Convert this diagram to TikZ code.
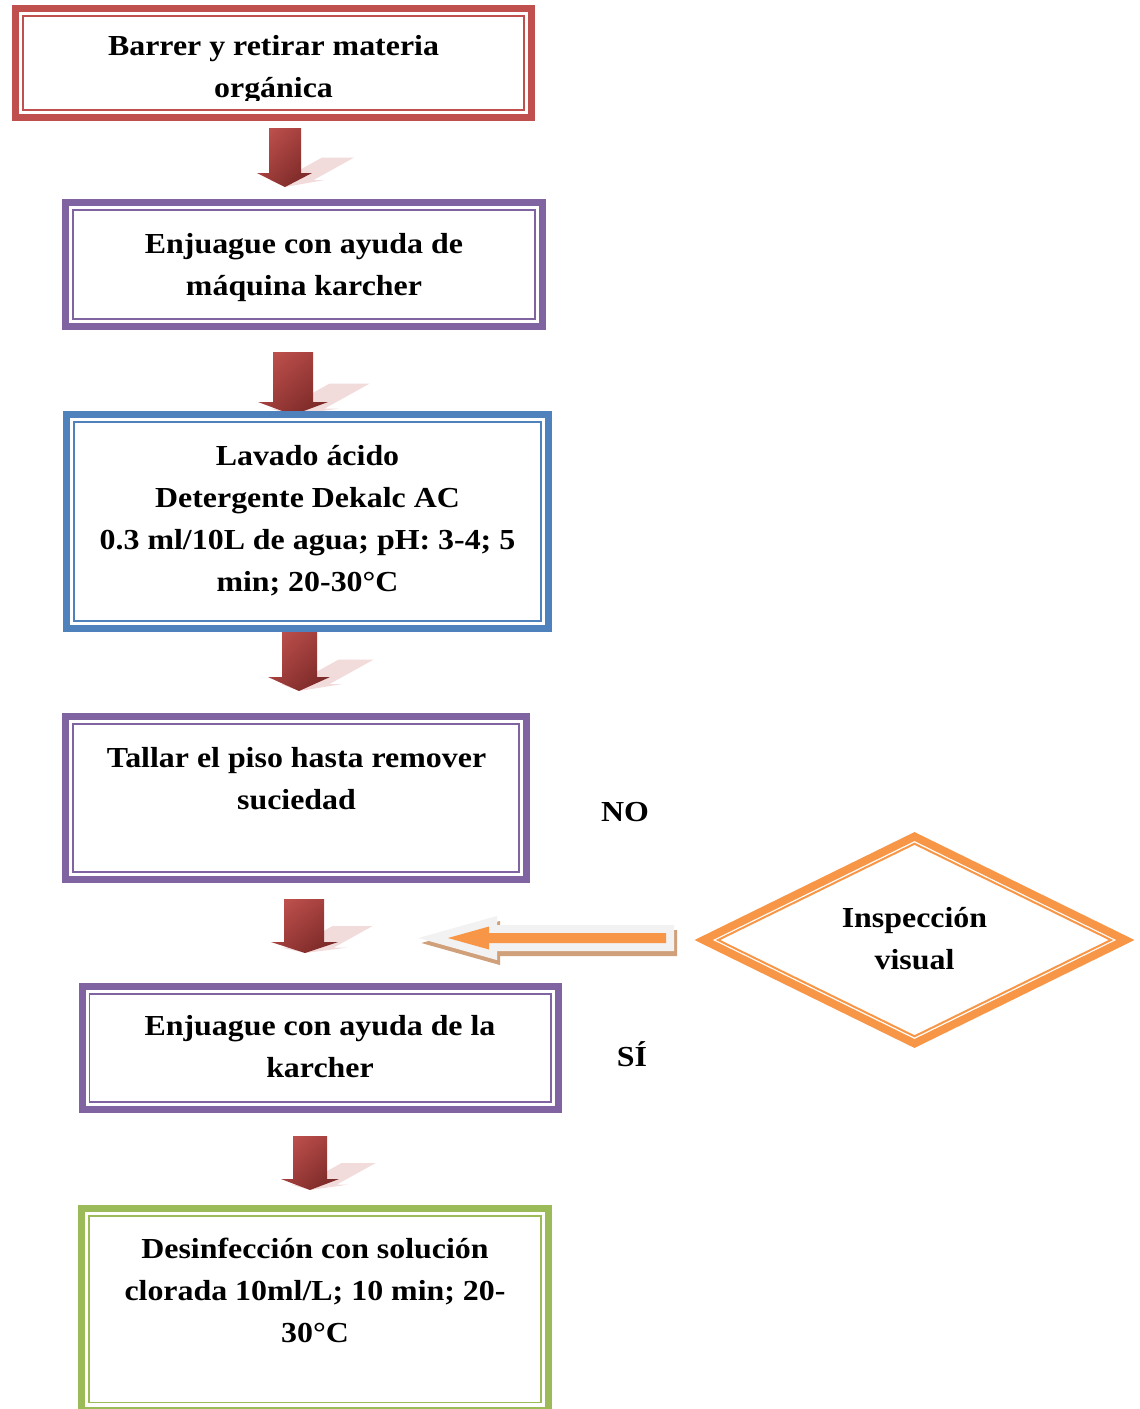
\documentclass[tikz,border=0pt]{standalone}
\usepackage{fontspec}
\usetikzlibrary{shadings}
\setmainfont{Liberation Serif}[FakeStretch=1.1]
\definecolor{cred}{HTML}{C0504D}
\definecolor{cpurple}{HTML}{8064A2}
\definecolor{cblue}{HTML}{4F81BD}
\definecolor{cgreen}{HTML}{9BBB59}
\definecolor{corange}{HTML}{F79646}
\definecolor{cgrey}{HTML}{F2F2F2}
\definecolor{ctan}{RGB}{208,160,122}
\definecolor{cpink}{RGB}{242,219,219}
\definecolor{alight}{RGB}{198,86,82}
\definecolor{amid}{RGB}{158,60,58}
\definecolor{adark}{RGB}{110,35,33}
\newcommand\tstrut{\rule{0pt}{26pt}}
% #1 shaft left, #2 shaft right, #3 top, #4 head y, #5 head left, #6 head right, #7 tip x, #8 tip y
\newcommand\blockdown[8]{%
  \pgfmathsetmacro\dyAll{#8-#3}%
  \pgfmathsetmacro\dyHead{#8-#4}%
  \fill[arrowshadow] ({#1+0.9*\dyAll},{#8-0.5*\dyAll}) -- ({#2+0.9*\dyAll},{#8-0.5*\dyAll})
     -- ({#2+0.9*\dyHead},{#8-0.5*\dyHead}) -- ({#6+0.9*\dyHead},{#8-0.5*\dyHead})
     -- (#7,#8) -- ({#5+0.9*\dyHead},{#8-0.5*\dyHead}) -- ({#1+0.9*\dyHead},{#8-0.5*\dyHead}) -- cycle;
  \shade[arrowbody] (#1,#3) -- (#2,#3) -- (#2,#4) -- (#6,#4) -- (#7,#8) -- (#5,#4) -- (#1,#4) -- cycle;
}
\begin{document}
\begin{tikzpicture}[x=1pt,y=-1pt,
  frame/.style={draw=#1, line width=7pt, inner sep=0pt, outer sep=0pt},
  innerframe/.style={draw=#1, line width=1.8pt},
  boxtext/.style={font=\bfseries\fontsize{29}{42}\selectfont, align=center, inner sep=0pt, anchor=north},
  sidetext/.style={font=\bfseries\fontsize{29}{42}\selectfont, inner sep=0pt, anchor=base},
  arrowshadow/.style={fill=cpink},
  arrowbody/.style={upper left=alight, upper right=amid, lower left=amid, lower right=adark},
  diamondouter/.style={draw=corange, line width=8pt, line join=miter},
  diamondinner/.style={draw=corange, line width=2pt, line join=miter},
  leftarrow/.style={fill=corange, preaction={draw=cgrey, line width=16pt, line join=miter}},
  leftshadow/.style={fill=ctan, draw=ctan, line width=16pt, line join=miter}]
\useasboundingbox (0,0) rectangle (1140,1409);
\clip (0,0) rectangle (1140,1409);

% block arrows (drawn first, boxes overlap them)
\blockdown{269}{301}{128}{173}{257}{312}{285}{187}
\blockdown{273}{313}{352}{402}{258}{328}{293}{415}
\blockdown{282}{317}{628}{677}{268}{330}{299}{691}
\blockdown{284}{324}{899}{942}{271}{338}{305}{953}
\blockdown{293}{327}{1136}{1179}{281}{339}{310}{1190}

% boxes
\node[frame=cred, minimum width=516pt, minimum height=109pt] (b1) at (273.5,63) {};
\draw[innerframe=cred] ([shift={(7.5,7.5)}]b1.north west) rectangle ([shift={(-7.5,-7.5)}]b1.south east);
\node[frame=cpurple, minimum width=477pt, minimum height=124pt] (b2) at (304,264.5) {};
\draw[innerframe=cpurple] ([shift={(7.5,7.5)}]b2.north west) rectangle ([shift={(-7.5,-7.5)}]b2.south east);
\node[frame=cblue, minimum width=482pt, minimum height=214pt] (b3) at (307.5,521.5) {};
\draw[innerframe=cblue] ([shift={(7.5,7.5)}]b3.north west) rectangle ([shift={(-7.5,-7.5)}]b3.south east);
\node[frame=cpurple, minimum width=461pt, minimum height=163pt] (b4) at (296,798) {};
\draw[innerframe=cpurple] ([shift={(7.5,7.5)}]b4.north west) rectangle ([shift={(-7.5,-7.5)}]b4.south east);
\node[frame=cpurple, minimum width=476.5pt, minimum height=123pt] (b5) at (320.25,1048) {};
\draw[innerframe=cpurple] ([shift={(7.5,7.5)}]b5.north west) rectangle ([shift={(-7.5,-7.5)}]b5.south east);
\node[frame=cgreen, minimum width=467pt, minimum height=201.5pt] (b6) at (315.3,1309.25) {};
\draw[innerframe=cgreen] ([shift={(7.5,7.5)}]b6.north west) rectangle ([shift={(-7.5,-7.5)}]b6.south east);

% texts
\begin{scope}
  \clip (20,10) rectangle (528,100);
  \node[boxtext] (t1) at (273.5,29) {\tstrut Barrer y retirar materia\\orgánica};
\end{scope}
\node[boxtext] (t2) at (304,227) {\tstrut Enjuague con ayuda de\\máquina karcher};
\node[boxtext] (t3) at (307.5,439) {\tstrut Lavado ácido\\Detergente Dekalc AC\\0.3 ml/10L de agua; pH: 3-4; 5\\min; 20-30°C};
\node[boxtext] (t4) at (296.5,741) {\tstrut Tallar el piso hasta remover\\suciedad};
\node[boxtext] (t5) at (320,1009) {\tstrut Enjuague con ayuda de la\\karcher};
\node[boxtext] (t6) at (315,1232) {\tstrut Desinfección con solución\\clorada 10ml/L; 10 min; 20-\\30°C};

% decision diamond
\coordinate (dl) at (703.6,940);
\coordinate (dt) at (914.5,836.5);
\coordinate (dr) at (1125.4,940);
\coordinate (db) at (914.5,1043.5);
\draw[diamondouter] (dl) -- (dt) -- (dr) -- (db) -- cycle;
\draw[diamondinner] (718,940) -- (914.5,843.7) -- (1111,940) -- (914.5,1036.3) -- cycle;
\node[boxtext] (td) at (914.5,901) {\tstrut Inspección\\visual};

\node[sidetext] (no) at (625,821) {NO};
\node[sidetext] (si) at (632,1066) {SÍ};

% horizontal block arrow from the decision back to the flow
\begin{scope}[shift={(3,5)}]
  \filldraw[leftshadow] (448,938) -- (489,926.5) -- (489,933) -- (666,933) -- (666,943) -- (489,943) -- (489,949.5) -- cycle;
\end{scope}
\fill[leftarrow] (448,938) -- (489,926.5) -- (489,933) -- (666,933) -- (666,943) -- (489,943) -- (489,949.5) -- cycle;
\end{tikzpicture}
\end{document}
